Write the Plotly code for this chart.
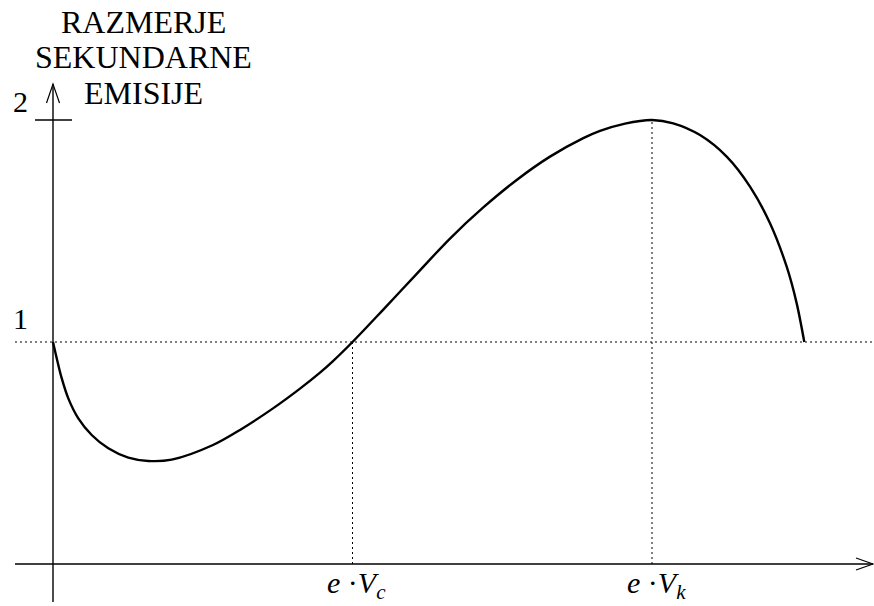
import plotly.graph_objects as go

# Curve (x in units of e*V, y = secondary emission ratio)
curve_x = [0.0, 0.0124, 0.029, 0.0511, 0.0845, 0.1292, 0.1846, 0.2514, 0.3182,
           0.3963, 0.5342, 0.6244, 0.7346, 0.8247, 0.8915, 0.9349, 1.0, 1.1028,
           1.2144, 1.3255, 1.4367, 1.5482, 1.6594, 1.7706, 1.8264, 1.91, 2.0,
           2.0711, 2.1603, 2.2494, 2.3272, 2.3940, 2.4497, 2.4831, 2.5085]
curve_y = [1.0, 0.927, 0.837, 0.746, 0.656, 0.581, 0.521, 0.479, 0.464,
           0.470, 0.536, 0.604, 0.701, 0.790, 0.862, 0.914, 1.0, 1.146,
           1.307, 1.466, 1.606, 1.730, 1.835, 1.918, 1.951, 1.984, 2.0,
           1.985, 1.932, 1.835, 1.700, 1.535, 1.339, 1.174, 1.0]

Vc = 1.0
Vk = 2.0
ref_level = 1.0
max_level = 2.0
y_tick_labels = ["1", "2"]
y_title_lines = ["RAZMERJE", "SEKUNDARNE", "EMISIJE"]
x_labels = ["<i>e</i> ·<i>V</i><sub><i>c</i></sub>", "<i>e</i> ·<i>V</i><sub><i>k</i></sub>"]

W, H = 874, 606
x0px, sx = 53.0, 299.5
y0px, sy = 564.0, 222.0


def px2x(p):
    return (p - x0px) / sx


def px2y(p):
    return (y0px - p) / sy


fig = go.Figure()

fig.add_trace(go.Scatter(x=curve_x, y=curve_y, mode="lines",
                         line=dict(color="black", width=2.4, shape="spline", smoothing=0.9),
                         hoverinfo="skip", showlegend=False))

dot = dict(color="black", width=1, dash="2px,3px")
axis_line = dict(color="black", width=1.4)
shapes = []
# dotted guides
shapes.append(dict(type="line", x0=px2x(15), x1=px2x(874), y0=ref_level, y1=ref_level, line=dot))
shapes.append(dict(type="line", x0=Vc, x1=Vc, y0=0, y1=ref_level, line=dot))
shapes.append(dict(type="line", x0=Vk, x1=Vk, y0=0, y1=max_level, line=dot))
# axes
shapes.append(dict(type="line", x0=px2x(15), x1=px2x(873), y0=0, y1=0, line=axis_line))
shapes.append(dict(type="line", x0=0, x1=0, y0=px2y(602), y1=px2y(84), line=axis_line))
# tick at 2
shapes.append(dict(type="line", x0=px2x(35), x1=px2x(72), y0=max_level, y1=max_level, line=axis_line))
# arrow heads
shapes.append(dict(type="path",
                   path=f"M {px2x(856)} {px2y(558)} L {px2x(873)} 0 L {px2x(856)} {px2y(570)}",
                   line=dict(color="black", width=1.2)))
shapes.append(dict(type="path",
                   path=f"M {px2x(46.5)} {px2y(103)} L 0 {px2y(84)} L {px2x(59.5)} {px2y(103)}",
                   line=dict(color="black", width=1.2)))

font = dict(family="Liberation Serif", size=32, color="black")
annotations = []
# y title
for i, line in enumerate(y_title_lines):
    annotations.append(dict(x=px2x(143), y=px2y(33 + 35.5 * i), xref="x", yref="y",
                            text=line, showarrow=False, xanchor="center", yanchor="bottom",
                            font=font, yshift=-8, borderpad=0))
# y tick labels
tick_font = dict(family="Liberation Serif", size=30, color="black")
annotations.append(dict(x=px2x(30), y=ref_level, text=y_tick_labels[0], showarrow=False,
                        xanchor="right", yanchor="bottom", font=tick_font, yshift=5))
annotations.append(dict(x=px2x(30), y=max_level, text=y_tick_labels[1], showarrow=False,
                        xanchor="right", yanchor="bottom", font=tick_font, yshift=0))
# x labels
xl_font = dict(family="Liberation Serif", size=30, color="black")
for xv, lab in zip([Vc, Vk], x_labels):
    annotations.append(dict(x=xv, y=0, text=lab, showarrow=False, xanchor="center",
                            yanchor="top", font=xl_font, yshift=0, xshift=4))

fig.update_layout(
    width=W, height=H, margin=dict(l=0, r=0, t=0, b=0),
    paper_bgcolor="white", plot_bgcolor="white",
    xaxis=dict(range=[px2x(0), px2x(W)], visible=False, fixedrange=True),
    yaxis=dict(range=[px2y(H), px2y(0)], visible=False, fixedrange=True),
    shapes=shapes, annotations=annotations, showlegend=False,
)

fig.write_html("out.html", config={"displayModeBar": False, "staticPlot": True},
               post_script="document.body.style.margin='0';document.body.style.overflow='hidden';")
